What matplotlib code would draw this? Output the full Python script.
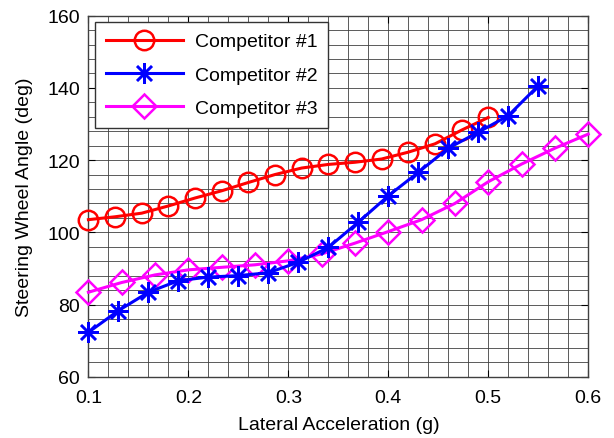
import numpy as np
import matplotlib
matplotlib.use("Agg")
import matplotlib.pyplot as plt

# data
x1 = np.linspace(0.1, 0.5, 16)
y1 = [103.5, 104.3, 105.3, 107.3, 109.5, 111.5, 113.8, 116.0,
      117.8, 118.8, 119.4, 120.3, 122.2, 124.5, 128.3, 131.8]

x2 = np.linspace(0.1, 0.55, 16)
y2 = [72.3, 78.3, 83.4, 86.6, 87.6, 88.0, 88.8, 91.7,
      95.8, 102.8, 110.1, 116.6, 123.3, 127.7, 132.3, 140.6]

x3 = np.linspace(0.1, 0.6, 16)
y3 = [83.4, 86.1, 88.2, 89.6, 90.3, 91.0, 92.1, 94.0,
      97.0, 100.2, 103.5, 108.0, 114.0, 118.9, 123.3, 127.2]

labels = ["Competitor #1", "Competitor #2", "Competitor #3"]
xticks = [0.1, 0.2, 0.3, 0.4, 0.5, 0.6]
yticks = [60, 80, 100, 120, 140, 160]

plt.rcParams["font.family"] = ["Liberation Sans", "DejaVu Sans"]

fig = plt.figure(figsize=(6.14, 4.39), dpi=100)
ax = fig.add_axes([0.144, 0.1396, 0.814, 0.8224])

ax.plot(x1, y1, "-o", color="#ff0000", lw=2.2, ms=14, mew=1.8,
        mfc="none", label=labels[0], zorder=3, clip_on=False)
ax.plot(x2, y2, "-", marker=(8, 2, 0), color="#0000ff", lw=2.2, ms=15,
        mew=1.8, label=labels[1], zorder=4, clip_on=False)
ax.plot(x3, y3, "-D", color="#ff00ff", lw=2.2, ms=12, mew=1.8,
        mfc="none", label=labels[2], zorder=3, clip_on=False)

ax.set_xlim(0.1, 0.6)
ax.set_ylim(60, 160)
ax.set_xticks(xticks)
ax.set_yticks(yticks)
ax.set_xticks(np.arange(0.1, 0.6001, 0.02), minor=True)
ax.set_yticks(np.arange(60, 160.01, 4), minor=True)
ax.grid(which="both", color="0.25", lw=0.6, ls="-")
ax.set_axisbelow(True)
ax.tick_params(which="major", direction="in", length=5, top=True,
               right=True, labelsize=14, pad=6)
ax.tick_params(axis="x", which="major", pad=9)
ax.tick_params(which="minor", length=0)
for s in ax.spines.values():
    s.set_color("0.25")
    s.set_linewidth(1.0)

ax.set_xlabel("Lateral Acceleration (g)", fontsize=14, labelpad=7)
ax.set_ylabel("Steering Wheel Angle (deg)", fontsize=14, labelpad=10)

leg = ax.legend(loc="upper left", bbox_to_anchor=(0.013, 0.982),
                borderaxespad=0, fontsize=14, handlelength=4.0,
                fancybox=False, framealpha=1, edgecolor="0.2",
                labelspacing=0.8, borderpad=0.55, handletextpad=0.6)
leg.get_frame().set_linewidth(1.0)

fig.savefig("out.png", dpi=100)
